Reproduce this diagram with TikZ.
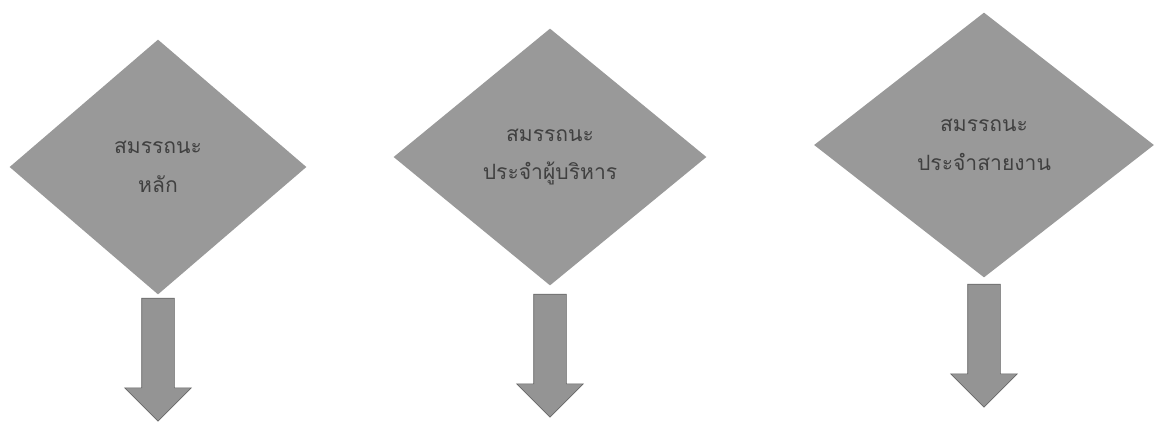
\documentclass[tikz,border=0pt]{standalone}
\usepackage{fontspec}
\newfontfamily\thaifont[Script=Thai]{Loma}
\usetikzlibrary{positioning,shapes.geometric,shapes.arrows}

\begin{document}
\begin{tikzpicture}[font=\thaifont\fontsize{12}{22}\selectfont,
  diamondbox/.style={diamond, fill=black!40, text=black!75, align=center, inner sep=0pt},
  downarrow/.style={single arrow, shape border rotate=270, fill=black!42, draw=black!60,
    inner sep=0.32cm, single arrow head extend=0.34cm, minimum height=2.46cm}]
\useasboundingbox (0,0) rectangle (23.08,-8.42);
% three competency groups
\node[diamondbox, minimum width=5.94cm, minimum height=5.10cm] (core) at (3.16,-3.34) {สมรรถนะ\\หลัก};
\node[diamondbox, minimum width=6.26cm, minimum height=5.14cm] (manager) at (11.0,-3.14) {สมรรถนะ\\ประจำผู้บริหาร};
\node[diamondbox, minimum width=6.80cm, minimum height=5.30cm] (line) at (19.68,-2.90) {สมรรถนะ\\ประจำสายงาน};
% block arrows below each diamond
\node[downarrow, below=0.06cm of core] (corearrow) {};
\node[downarrow, below=0.16cm of manager] (managerarrow) {};
\node[downarrow, below=0.12cm of line] (linearrow) {};
\end{tikzpicture}
\end{document}
